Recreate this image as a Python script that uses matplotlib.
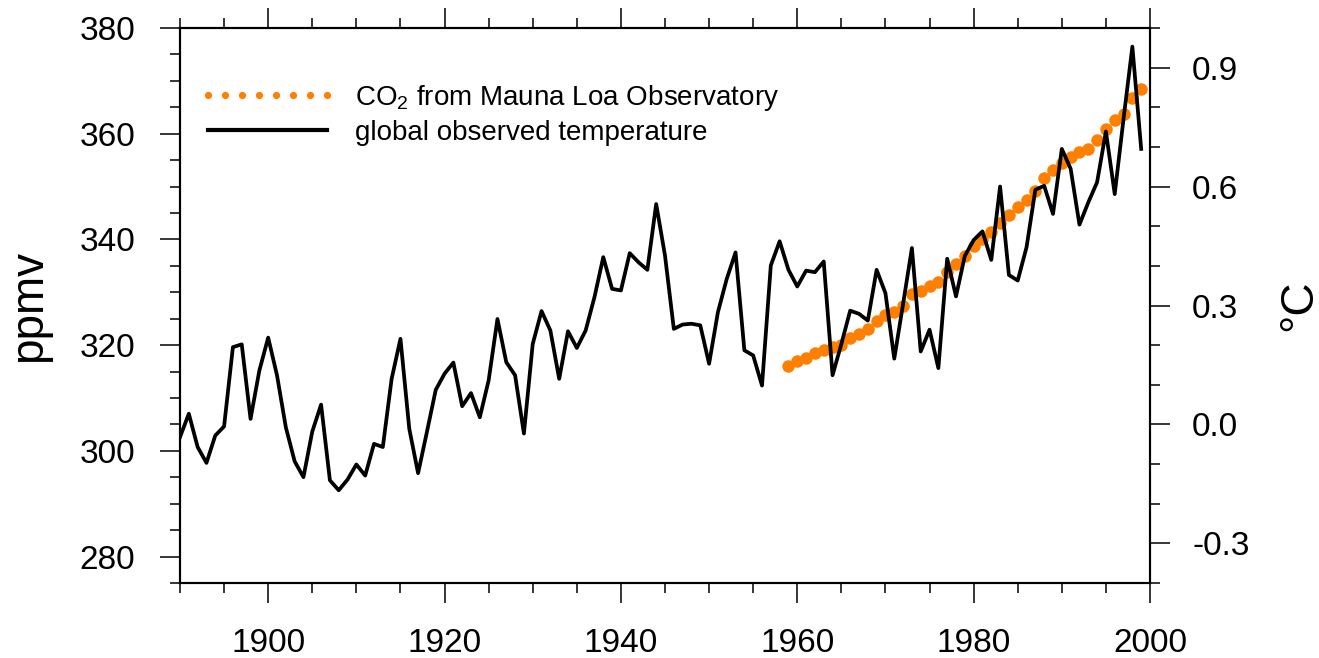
import numpy as np
import matplotlib
matplotlib.use("Agg")
from matplotlib import pyplot as plt
from matplotlib.lines import Line2D
from matplotlib.ticker import MultipleLocator, FormatStrFormatter

plt.rcParams['font.family'] = ['Liberation Sans', 'DejaVu Sans']
plt.rcParams['mathtext.fontset'] = 'custom'
plt.rcParams['mathtext.rm'] = 'Liberation Sans'

# global temperature anomaly (degC), 1890-1999
temp_years = np.arange(1890, 2000)
temp = [
    -0.032, 0.027, -0.057, -0.097, -0.028, -0.005, 0.195, 0.202, 0.014, 0.136,
    0.219, 0.124, -0.007, -0.093, -0.133, -0.018, 0.050, -0.141, -0.166, -0.139,
    -0.101, -0.129, -0.049, -0.057, 0.115, 0.216, -0.011, -0.123, -0.019, 0.087,
    0.128, 0.156, 0.046, 0.079, 0.018, 0.111, 0.266, 0.157, 0.124, -0.023,
    0.203, 0.286, 0.237, 0.115, 0.235, 0.193, 0.237, 0.321, 0.422, 0.342,
    0.338, 0.432, 0.409, 0.390, 0.556, 0.426, 0.241, 0.252, 0.254, 0.250,
    0.153, 0.283, 0.367, 0.434, 0.187, 0.174, 0.098, 0.401, 0.462, 0.390,
    0.348, 0.388, 0.384, 0.411, 0.124, 0.203, 0.287, 0.279, 0.262, 0.390,
    0.331, 0.166, 0.304, 0.445, 0.184, 0.239, 0.142, 0.418, 0.323, 0.425,
    0.465, 0.487, 0.415, 0.600, 0.377, 0.363, 0.447, 0.592, 0.602, 0.531,
    0.695, 0.645, 0.504, 0.560, 0.611, 0.739, 0.581, 0.771, 0.953, 0.695,
]

# Mauna Loa annual mean CO2 (ppmv), 1959-1999
co2_years = np.arange(1959, 2000)
co2 = [
    315.97, 316.91, 317.64, 318.45, 318.99, 319.62, 320.04, 321.38, 322.16, 323.04,
    324.62, 325.68, 326.32, 327.45, 329.68, 330.18, 331.11, 332.04, 333.83, 335.40,
    336.84, 338.75, 340.11, 341.45, 343.05, 344.65, 346.12, 347.42, 349.19, 351.57,
    353.12, 354.39, 355.61, 356.45, 357.10, 358.83, 360.82, 362.61, 363.73, 366.70,
    368.38,
]

orange = '#ff8000'

fig = plt.figure(figsize=(13.19, 6.58), dpi=100)
ax = fig.add_axes([180 / 1319, 1 - 583 / 658, 970 / 1319, 555 / 658])
ax2 = ax.twinx()

ax.plot(co2_years, co2, ls='none', marker='o', ms=9, color=orange, mec='none')
ax2.plot(temp_years, temp, color='black', lw=2.7)

ax.set_xlim(1890, 2000)
ax.set_ylim(275, 380)
ax2.set_ylim(-0.4, 1.0)

ax.xaxis.set_major_locator(MultipleLocator(20))
ax.xaxis.set_minor_locator(MultipleLocator(5))
ax.yaxis.set_major_locator(MultipleLocator(20))
ax.yaxis.set_minor_locator(MultipleLocator(5))
ax2.yaxis.set_major_locator(MultipleLocator(0.3))
ax2.yaxis.set_minor_locator(MultipleLocator(0.1))
ax2.yaxis.set_major_formatter(FormatStrFormatter('%.1f'))

for a in (ax, ax2):
    for s in a.spines.values():
        s.set_linewidth(1.5)
    a.tick_params(which='major', direction='out', length=14.4, width=1.1,
                  labelsize=24)
    a.tick_params(which='minor', direction='out', length=7.2, width=1.1)
ax.tick_params(axis='x', which='both', top=True, pad=18)
ax.tick_params(axis='y', which='both', pad=18)
ax2.tick_params(axis='y', which='both', pad=16)

ax.set_ylabel('ppmv', fontsize=33, labelpad=20)
ax2.set_ylabel('°C', fontsize=33, labelpad=20)

handles = [
    Line2D([], [], ls='none', marker='o', ms=5.2, color=orange, mec='none'),
    Line2D([], [], color='black', lw=3),
]
ax2.legend(handles,
           ['CO$_\\mathregular{2}$ from Mauna Loa Observatory',
            'global observed temperature'],
           loc='upper left', bbox_to_anchor=(200 / 1319, 1 - 83 / 658),
           bbox_transform=fig.transFigure, frameon=False, fontsize=20,
           numpoints=8, handlelength=4.86, handletextpad=0.72,
           labelspacing=0.25, borderpad=0, borderaxespad=0)

fig.savefig('out.png', dpi=100)
